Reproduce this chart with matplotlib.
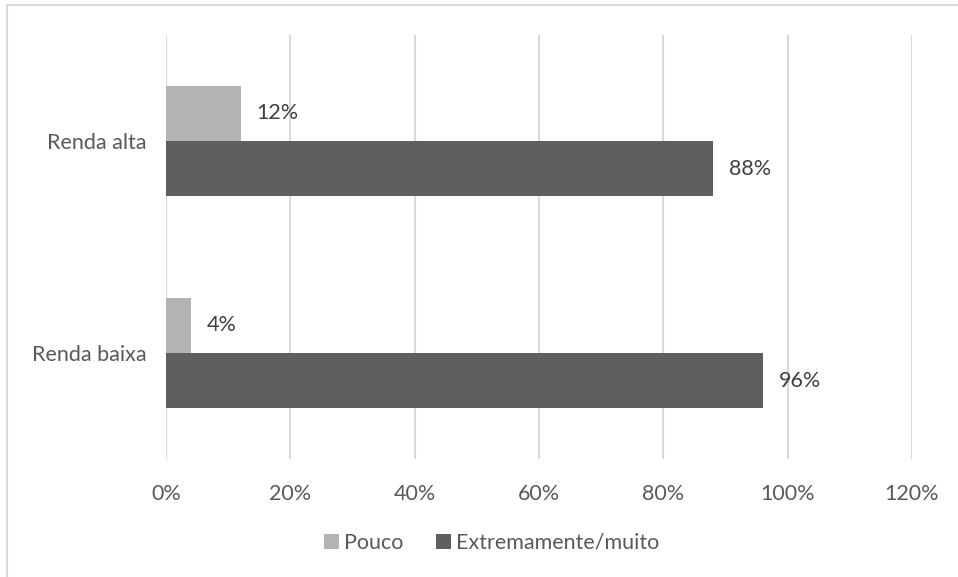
import matplotlib.pyplot as plt
import numpy as np
from matplotlib.lines import Line2D

plt.rcParams['font.family'] = ['Lato', 'DejaVu Sans']

categories = ['Renda baixa', 'Renda alta']
pouco = [4, 12]
muito = [96, 88]
series_names = ['Pouco', 'Extremamente/muito']
xticks = [0, 20, 40, 60, 80, 100, 120]

c_pouco = '#B3B3B3'
c_muito = '#5F5F5F'
txt = '#595959'

fig = plt.figure(figsize=(9.58, 5.77), dpi=100)
ax = fig.add_axes([0.1733, 0.2045, 0.952 - 0.1733, 0.9393 - 0.2045])

# chart border (only top and left edges are visible in the crop)
fig.lines.append(Line2D([0.0075, 1.0], [0.991, 0.991], transform=fig.transFigure,
                        color='#D9D9D9', linewidth=1.5))
fig.lines.append(Line2D([0.0075, 0.0075], [0.0, 0.991], transform=fig.transFigure,
                        color='#D9D9D9', linewidth=1.5))

y = np.arange(len(categories))
h = 0.26
b1 = ax.barh(y + h / 2, pouco, height=h, color=c_pouco, label=series_names[0], zorder=3)
b2 = ax.barh(y - h / 2, muito, height=h, color=c_muito, label=series_names[1], zorder=3)

for bars in (b1, b2):
    for r in bars:
        w = r.get_width()
        ax.text(w + 2.6, r.get_y() + r.get_height() / 2, f'{w:.0f}%',
                va='center', ha='left', fontsize=15.5, color='#404040')

ax.set_xlim(0, 120)
ax.set_ylim(-0.5, 1.5)
ax.set_xticks(xticks)
ax.set_xticklabels([f'{t}%' for t in xticks], fontsize=15.5, color=txt)
ax.set_yticks(y)
ax.set_yticklabels(categories, fontsize=15.5, color=txt)
ax.tick_params(axis='both', length=0)
ax.tick_params(axis='x', pad=18)
ax.tick_params(axis='y', pad=14)
ax.grid(axis='x', color='#D9D9D9', linewidth=1.5, zorder=0)
for s in ax.spines.values():
    s.set_visible(False)

leg = fig.legend(handles=[b1, b2], loc='center', bbox_to_anchor=(0.513, 0.059), ncol=2,
                 frameon=False, fontsize=15.5, handlelength=0.7, handleheight=0.7,
                 handletextpad=0.25, columnspacing=1.5)
for t in leg.get_texts():
    t.set_color(txt)

fig.savefig('out.png', dpi=100)
